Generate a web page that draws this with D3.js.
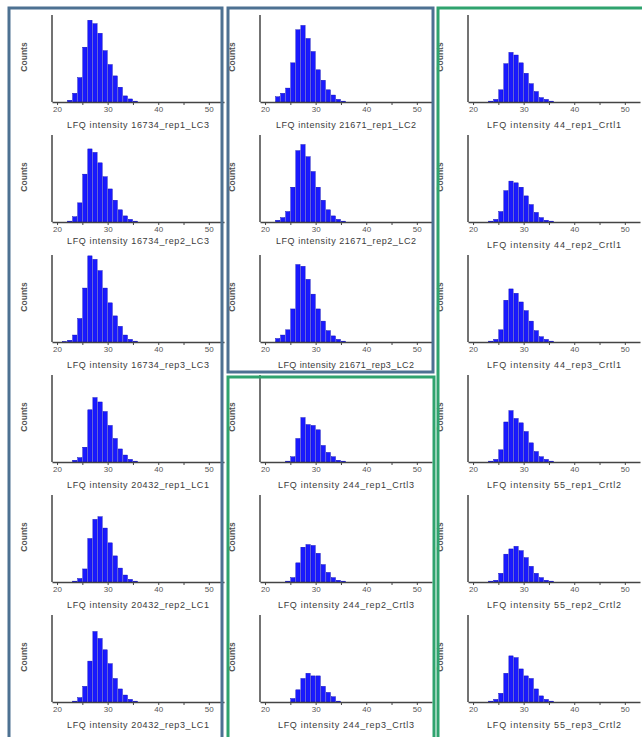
<!DOCTYPE html>
<html><head><meta charset="utf-8">
<script src="https://cdn.jsdelivr.net/npm/d3@7"></script>
<style>body{margin:0;background:#fff}svg{display:block}</style>
</head><body><svg id="c" width="642" height="737"></svg>
<script>
// histogram bin starts (LFQ intensity, bin width 1)
const binStarts = [21,22,23,24,25,26,27,28,29,30,31,32,33,34,35,36];
const tickValues = [20,25,30,35,40,45,50];
const tickLabels = ["20","","30","","40","","50"];
const yLabel = "Counts";

// relative counts per bin
const s16734_rep1 = [0,2,10,28,63,94,90,79,59,43,30,17,7,3.5,1,0];
const s16734_rep2 = [0,1,6,22,55,84,80,68,52,38,25,14,7,3,1,0];
const s16734_rep3 = [0.5,2,8,27,62,99,95,82,62,45,30,18,8,3,1,0];
const s20432_rep1 = [0,0,2,5,17,60,74,69,58,42,27,15,8,3,1,0];
const s20432_rep2 = [0,0,1,4,15,50,72,75,62,45,30,16,8,3,1,0];
const s20432_rep3 = [0,0,1,5,18,47,81,73,60,44,27,15,8,3,1,0];
const s21671_rep1 = [0,6,10,16,45,83,88,73,58,37,25,14,8,3,1,0];
const s21671_rep2 = [0,2,5,12,40,82,89,75,58,40,25,14,7,3,1,0];
const s21671_rep3 = [0,4,8,14,38,89,87,72,55,38,24,13,7,3,1,0];
const s244_rep1 = [0,0,0,1,6,27,51,43,42,37,19,11,6,2,1,0];
const s244_rep2 = [0,0,0,1,5,22,40,43,42,33,20,11,5,2,1,0];
const s244_rep3 = [0,0,0,0,4,14,27,33,30,30,18,11,6,1,0,0];
const s44_rep1 = [0,0,1,3,14,44,57,54,45,33,21,12,5,3,1,0];
const s44_rep2 = [0,0,1,3,12,36,47,45,40,30,20,11,5,2,1,0];
const s44_rep3 = [0,0,1,3,14,48,61,56,46,36,24,13,6,3,1,0];
const s55_rep1 = [0,0,1,3,14,46,59,50,45,35,22,12,6,3,1,0];
const s55_rep2 = [0,0,1,2,10,32,38,41,36,28,18,10,5,2,1,0];
const s55_rep3 = [0,0,1,3,10,33,53,51,38,30,27,15,7,3,1,0];

const panels = [
  {col:0,row:0,title:"LFQ  intensity  16734_rep1_LC3",values:s16734_rep1},
  {col:0,row:1,title:"LFQ  intensity  16734_rep2_LC3",values:s16734_rep2},
  {col:0,row:2,title:"LFQ  intensity  16734_rep3_LC3",values:s16734_rep3},
  {col:0,row:3,title:"LFQ  intensity  20432_rep1_LC1",values:s20432_rep1},
  {col:0,row:4,title:"LFQ  intensity  20432_rep2_LC1",values:s20432_rep2},
  {col:0,row:5,title:"LFQ  intensity  20432_rep3_LC1",values:s20432_rep3},
  {col:1,row:0,title:"LFQ  intensity  21671_rep1_LC2",values:s21671_rep1},
  {col:1,row:1,title:"LFQ  intensity  21671_rep2_LC2",values:s21671_rep2},
  {col:1,row:2,title:"LFQ intensity 21671_rep3_LC2",values:s21671_rep3},
  {col:1,row:3,title:"LFQ intensity 244_rep1_Crtl3",values:s244_rep1},
  {col:1,row:4,title:"LFQ intensity 244_rep2_Crtl3",values:s244_rep2},
  {col:1,row:5,title:"LFQ intensity 244_rep3_Crtl3",values:s244_rep3},
  {col:2,row:0,title:"LFQ intensity 44_rep1_Crtl1",values:s44_rep1},
  {col:2,row:1,title:"LFQ intensity 44_rep2_Crtl1",values:s44_rep2},
  {col:2,row:2,title:"LFQ intensity 44_rep3_Crtl1",values:s44_rep3},
  {col:2,row:3,title:"LFQ intensity 55_rep1_Crtl2",values:s55_rep1},
  {col:2,row:4,title:"LFQ intensity 55_rep2_Crtl2",values:s55_rep2},
  {col:2,row:5,title:"LFQ intensity 55_rep3_Crtl2",values:s55_rep3}
];

const svg = d3.select("#c");
const colX = [52, 260, 468];
const rowY = [15, 135, 255, 375, 495, 615];
const titleW = [142, 140, 134];
const H = 87;
const x = d3.scaleLinear().domain([19, 53]).range([0, 172]);
const y = d3.scaleLinear().domain([0, 100]).range([H, 0]);
const font = "'Liberation Sans', Arial, sans-serif";

panels.forEach(p => {
  const g = svg.append("g").attr("transform", `translate(${colX[p.col]},${rowY[p.row]})`);
  const data = p.values.map((v, i) => ({b: binStarts[i], v})).filter(d => d.v > 0);
  g.selectAll("rect.bar").data(data).join("rect")
    .attr("class", "bar")
    .attr("x", d => x(d.b) + 0.4)
    .attr("width", d => x(d.b + 1) - x(d.b) - 0.8)
    .attr("y", d => y(d.v))
    .attr("height", d => H - y(d.v))
    .attr("fill", "#1a1aff")
    .attr("stroke", "#0000b0")
    .attr("stroke-width", 0.4);
  // y axis line
  g.append("line").attr("x1", 0).attr("x2", 0).attr("y1", 0).attr("y2", H)
    .attr("stroke", "#444").attr("stroke-width", 1.5);
  const ax = g.append("g").attr("transform", `translate(0,${H})`)
    .call(d3.axisBottom(x).tickValues(tickValues).tickSize(3).tickSizeOuter(0)
      .tickFormat((d, i) => tickLabels[i]));
  ax.select(".domain").attr("stroke", "#444").attr("stroke-width", 1.5);
  ax.selectAll(".tick line").attr("stroke", "#444").attr("stroke-width", 1);
  ax.selectAll(".tick text").attr("font-family", font).attr("font-size", 8)
    .attr("fill", "#555").attr("dy", "0.45em");
  const ty = (p.row === 1 && p.col < 2) ? H + 22 : H + 26;
  g.append("text").attr("x", 86).attr("y", ty).attr("text-anchor", "middle")
    .attr("font-family", font).attr("font-size", 9).attr("fill", "#3a3a3a")
    .attr("textLength", titleW[p.col] - (p.col === 1 && p.row > 1 ? 4 : 0))
    .attr("lengthAdjust", "spacing")
    .text(p.title);
  g.append("text").attr("transform", `translate(${-25},${42}) rotate(-90)`)
    .attr("text-anchor", "middle").attr("font-family", font).attr("font-size", 8.5)
    .attr("font-weight", "bold").attr("fill", "#555").text(yLabel);
});

// group boxes
const boxes = [
  {x: 9, y: 8, w: 213, h: 740, c: "#4d7192"},
  {x: 228, y: 8, w: 205, h: 364, c: "#4d7192"},
  {x: 228, y: 377, w: 206, h: 370, c: "#2fa36e"},
  {x: 438, y: 8, w: 220, h: 740, c: "#2fa36e"}
];
svg.selectAll("rect.box").data(boxes).join("rect").attr("class", "box")
  .attr("x", d => d.x).attr("y", d => d.y).attr("width", d => d.w).attr("height", d => d.h)
  .attr("fill", "none").attr("stroke", d => d.c).attr("stroke-width", 3);
</script></body></html>
